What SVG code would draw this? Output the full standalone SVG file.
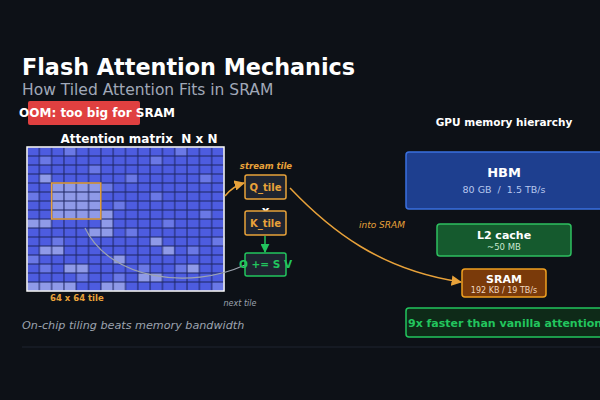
<svg xmlns="http://www.w3.org/2000/svg" width="600" height="400" viewBox="0 0 600 400">
<defs>
<style>
text{font-family:"DejaVu Sans","Noto Sans",sans-serif}
.b{font-weight:bold}
.box{fill:#1e2430;stroke-width:1.5}
.or{stroke:#e8a23a}
.lt{fill:#8f9ae8}
.md{fill:#6a78e6}
</style>
<pattern id="grid" width="12.3125" height="9" patternUnits="userSpaceOnUse" x="27" y="147">
<rect width="12.3125" height="9" fill="none" stroke="#1c2460" stroke-width="1"/>
</pattern>
<marker id="ao" viewBox="0 0 10 10" refX="9" refY="5" markerWidth="7" markerHeight="7" orient="auto"><path d="M0,0 L10,5 L0,10z" fill="#e8a23a"/></marker>
<marker id="ag" viewBox="0 0 10 10" refX="9" refY="5" markerWidth="6" markerHeight="6" orient="auto"><path d="M0,0 L10,5 L0,10z" fill="#22c55e"/></marker>
</defs>
<rect width="600" height="400" fill="#0d1117"/>
<text x="22" y="75" font-size="22.3" class="b" fill="#fff">Flash Attention Mechanics</text>
<text x="22" y="95" font-size="15.5" fill="#a0a8b8">How Tiled Attention Fits in SRAM</text>
<g id="oom"><rect x="28" y="101" width="112" height="24" rx="2" fill="#e04040"/>
<text x="97" y="117" font-size="12" class="b" fill="#fff" text-anchor="middle">OOM: too big for SRAM</text></g>
<g id="matrix">
<text x="139" y="143" font-size="12" class="b" fill="#fff" text-anchor="middle" xml:space="preserve">Attention matrix  N x N</text>
<rect x="27" y="147" width="197" height="144" fill="#4d5ce0"/>
<g class="md">
<rect x="39.3" y="156" width="12.3" height="9"/><rect x="88.6" y="165" width="12.3" height="9"/><rect x="150" y="156" width="12.3" height="9"/><rect x="200" y="174" width="12.3" height="9"/><rect x="27" y="192" width="12.3" height="9"/><rect x="113" y="201" width="12.3" height="9"/><rect x="162" y="219" width="12.3" height="9"/><rect x="52" y="237" width="12.3" height="9"/><rect x="187" y="246" width="12.3" height="9"/><rect x="138" y="264" width="12.3" height="9"/><rect x="76" y="273" width="12.3" height="9"/><rect x="212" y="282" width="12.3" height="9"/><rect x="125" y="174" width="12.3" height="9"/><rect x="27" y="255" width="12.3" height="9"/>
<rect x="64" y="147" width="12.3" height="9"/><rect x="175" y="147" width="12.3" height="9"/><rect x="101" y="183" width="12.3" height="9"/><rect x="150" y="192" width="12.3" height="9"/><rect x="200" y="210" width="12.3" height="9"/><rect x="125" y="228" width="12.3" height="9"/><rect x="175" y="264" width="12.3" height="9"/><rect x="113" y="273" width="12.3" height="9"/><rect x="39.3" y="264" width="12.3" height="9"/><rect x="212" y="237" width="12.3" height="9"/>
</g>
<g class="lt">
<rect x="39.3" y="174" width="12.3" height="9"/><rect x="51.6" y="183" width="49.2" height="36"/><rect x="100.8" y="210" width="12.3" height="9"/><rect x="27" y="219" width="24.6" height="9"/><rect x="88.6" y="228" width="24.6" height="9"/><rect x="100.8" y="219" width="12.3" height="9"/><rect x="39.3" y="246" width="24.6" height="9"/><rect x="64" y="264" width="24.6" height="9"/><rect x="113" y="255" width="12.3" height="9"/><rect x="138" y="273" width="24.6" height="9"/><rect x="162" y="246" width="12.3" height="9"/><rect x="187" y="264" width="12.3" height="9"/><rect x="27" y="282" width="49" height="9"/><rect x="101" y="282" width="24.6" height="9"/><rect x="150" y="237" width="12.3" height="9"/><rect x="64" y="201" width="12.3" height="9"/>
</g>
<rect x="27" y="147" width="197" height="144" fill="url(#grid)"/>
<rect x="27" y="147" width="197" height="144" fill="none" stroke="#fff" stroke-width="1.5"/>
<rect x="51.6" y="183" width="49.2" height="36" fill="none" stroke="#e8a23a" stroke-width="1.5"/>
<text x="50" y="301" font-size="8.5" class="b" fill="#e8a23a">64 x 64 tile</text>
</g>
<g id="connectors" fill="none">
<path d="M225,196 Q233,186 244,183" stroke="#e8a23a" stroke-width="1.5" marker-end="url(#ao)"/>
<path d="M290,188 C330,230 380,270 461,282" stroke="#e8a23a" stroke-width="1.5" marker-end="url(#ao)"/>
<path d="M265,236 L265,252" stroke="#22c55e" stroke-width="1.5" marker-end="url(#ag)"/>
<path d="M85,228 C110,280 190,290 245,265" stroke="#9ca3af" stroke-width="1.2"/>
</g>
<text x="266" y="169" font-size="8.5" class="b" font-style="italic" fill="#e8a23a" text-anchor="middle">stream tile</text>
<g id="q"><rect class="box or" x="245" y="175" width="41" height="24" rx="2"/><text x="265.5" y="190.5" font-size="10" class="b" fill="#e8a23a" text-anchor="middle">Q_tile</text></g>
<text x="265.5" y="215" font-size="12" class="b" fill="#fff" text-anchor="middle">x</text>
<g id="k"><rect class="box or" x="245" y="211" width="41" height="24" rx="2"/><text x="265.5" y="226.5" font-size="10" class="b" fill="#e8a23a" text-anchor="middle">K_tile</text></g>
<g id="o"><rect class="box" stroke="#22c55e" x="245" y="253" width="41" height="23" rx="2"/><text x="265.5" y="268" font-size="10.5" class="b" fill="#22c55e" text-anchor="middle">O += S V</text></g>
<text x="240" y="306" font-size="8" font-style="italic" fill="#9ca3af" text-anchor="middle">next tile</text>
<text x="382" y="228" font-size="9" font-style="italic" fill="#e8a23a" text-anchor="middle">into SRAM</text>
<text x="22" y="329" font-size="11.2" font-style="italic" fill="#9ca3af">On-chip tiling beats memory bandwidth</text>
<text x="504" y="126" font-size="10.5" class="b" fill="#fff" text-anchor="middle">GPU memory hierarchy</text>
<g id="hbm"><rect x="406" y="152" width="200" height="57" rx="3" fill="#1e3f8f" stroke="#3a70e0" stroke-width="1.5"/>
<text x="504" y="177" font-size="13" class="b" fill="#fff" text-anchor="middle">HBM</text>
<text x="504" y="193" font-size="9.5" fill="#b8c8ee" text-anchor="middle" xml:space="preserve">80 GB  /  1.5 TB/s</text></g>
<g id="l2"><rect x="437" y="224" width="134" height="32" rx="3" fill="#155a2e" stroke="#2ec060" stroke-width="1.5"/>
<text x="504" y="239" font-size="11" class="b" fill="#fff" text-anchor="middle">L2 cache</text>
<text x="504" y="250" font-size="8.5" fill="#c8e8d0" text-anchor="middle">~50 MB</text></g>
<g id="sram"><rect x="462" y="269" width="84" height="28" rx="3" fill="#7a3a0a" stroke="#f0a020" stroke-width="1.5"/>
<text x="504" y="283" font-size="11" class="b" fill="#fff" text-anchor="middle">SRAM</text>
<text x="504" y="293" font-size="8" fill="#f0d8c0" text-anchor="middle">192 KB / 19 TB/s</text></g>
<g id="fast"><rect x="406" y="308" width="200" height="29" rx="3" fill="#0e2a18" stroke="#22c55e" stroke-width="1.5"/>
<text x="408" y="327" font-size="11" class="b" fill="#22c55e">9x faster than vanilla attention</text></g>
<line x1="22" y1="347" x2="600" y2="347" stroke="#1e2430" stroke-width="1"/>
</svg>
